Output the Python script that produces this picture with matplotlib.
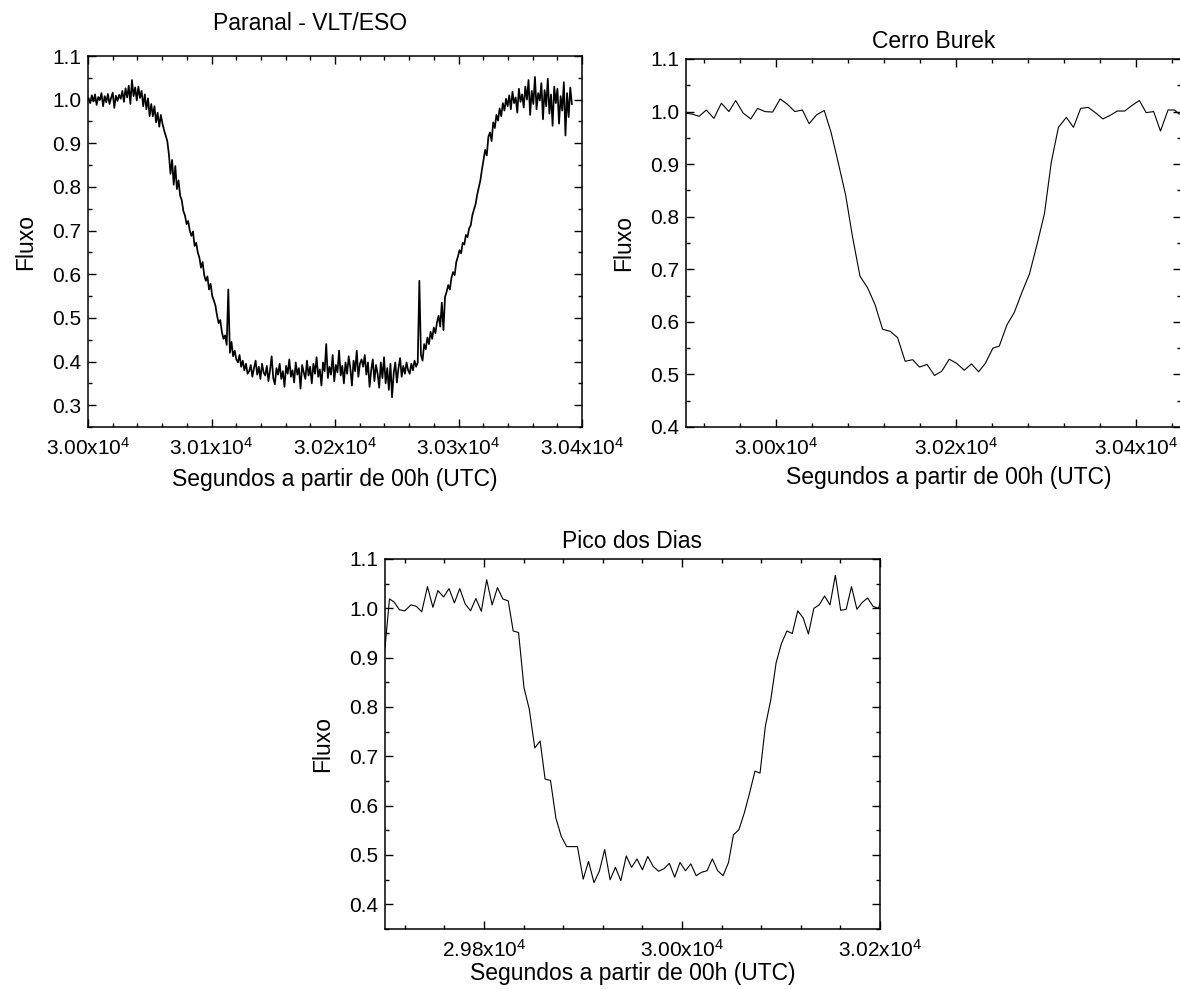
import numpy as np
import matplotlib
matplotlib.use("Agg")
import matplotlib.pyplot as plt
from matplotlib.ticker import MultipleLocator, FuncFormatter

# curvas de luz da ocultacao, tres sitios

# Paranal - VLT/ESO (cadencia constante)
paranal_inicio = 30000.5
paranal_cadencia = 1.3
fluxo_paranal = [
    1.003, 0.992, 1.010, 0.996, 1.012, 0.988, 1.006, 0.999, 1.015, 0.985,
    1.008, 0.994, 1.013, 0.990, 1.004, 1.016, 0.981, 1.009, 0.997, 1.011,
    1.002, 1.020, 0.995, 1.026, 1.005, 1.032, 0.990, 1.045, 1.008, 1.028,
    0.998, 1.030, 1.004, 1.020, 0.985, 1.012, 0.978, 1.003, 0.962, 0.990,
    0.962, 0.985, 0.948, 0.970, 0.938, 0.965, 0.945, 0.930, 0.918, 0.905,
    0.875, 0.830, 0.862, 0.805, 0.848, 0.795, 0.815, 0.780, 0.770, 0.745,
    0.735, 0.715, 0.722, 0.700, 0.688, 0.698, 0.665, 0.672, 0.650, 0.638,
    0.615, 0.628, 0.598, 0.585, 0.595, 0.565, 0.578, 0.550, 0.540, 0.528,
    0.505, 0.488, 0.495, 0.468, 0.452, 0.460, 0.438, 0.565, 0.420, 0.445,
    0.412, 0.425, 0.405, 0.398, 0.415, 0.388, 0.402, 0.380, 0.395, 0.372,
    0.378, 0.392, 0.365, 0.385, 0.402, 0.370, 0.388, 0.360, 0.395, 0.375,
    0.368, 0.390, 0.355, 0.380, 0.412, 0.362, 0.348, 0.385, 0.370, 0.395,
    0.360, 0.378, 0.342, 0.390, 0.372, 0.405, 0.365, 0.380, 0.352, 0.398,
    0.370, 0.385, 0.338, 0.392, 0.375, 0.360, 0.402, 0.368, 0.388, 0.350,
    0.395, 0.372, 0.410, 0.365, 0.382, 0.345, 0.398, 0.378, 0.440, 0.362,
    0.388, 0.370, 0.415, 0.355, 0.392, 0.375, 0.425, 0.368, 0.390, 0.350,
    0.398, 0.372, 0.412, 0.385, 0.345, 0.402, 0.378, 0.425, 0.365, 0.395,
    0.405, 0.388, 0.415, 0.370, 0.398, 0.342, 0.380, 0.405, 0.355, 0.392,
    0.372, 0.340, 0.398, 0.362, 0.410, 0.350, 0.385, 0.335, 0.395, 0.318,
    0.372, 0.398, 0.352, 0.385, 0.408, 0.365, 0.390, 0.372, 0.398, 0.380,
    0.372, 0.395, 0.380, 0.402, 0.388, 0.398, 0.585, 0.415, 0.402, 0.440,
    0.428, 0.455, 0.440, 0.468, 0.452, 0.478, 0.465, 0.490, 0.505, 0.480,
    0.535, 0.472, 0.548, 0.560, 0.575, 0.565, 0.592, 0.605, 0.598, 0.628,
    0.640, 0.655, 0.648, 0.672, 0.668, 0.690, 0.685, 0.705, 0.712, 0.735,
    0.748, 0.760, 0.782, 0.798, 0.815, 0.840, 0.862, 0.885, 0.872, 0.915,
    0.925, 0.905, 0.948, 0.935, 0.965, 0.952, 0.980, 0.962, 0.992, 0.975,
    1.002, 0.985, 1.010, 0.978, 1.018, 0.992, 1.005, 0.970, 1.025, 0.995,
    1.012, 0.982, 1.030, 1.000, 1.045, 0.965, 1.020, 0.990, 1.052, 0.978,
    1.015, 0.998, 1.038, 0.955, 1.022, 0.985, 1.048, 0.968, 1.012, 0.940,
    1.030, 0.992, 1.025, 0.945, 1.008, 0.975, 1.040, 0.918, 1.015, 0.960,
    1.028, 0.990,
]

# Cerro Burek
tempo_burek = [
    29900.0, 29907.1, 29914.6, 29922.6, 29931.0, 29939.3, 29947.7, 29955.2,
    29963.6, 29972.0, 29979.5, 29987.9, 29996.2, 30004.6, 30012.6, 30020.9,
    30029.3, 30036.8, 30045.2, 30053.6, 30061.1, 30069.0, 30077.4, 30084.9,
    30093.3, 30101.7, 30110.0, 30118.4, 30126.8, 30135.1, 30143.5, 30151.9,
    30159.4, 30167.8, 30176.1, 30184.1, 30192.5, 30200.8, 30209.2, 30217.2,
    30225.1, 30232.6, 30241.0, 30248.1, 30256.5, 30264.8, 30273.2, 30281.6,
    30290.0, 30298.3, 30305.9, 30313.8, 30322.6, 30330.5, 30338.5, 30346.9,
    30354.8, 30363.2, 30371.5, 30379.1, 30387.4, 30395.8, 30403.8, 30411.3,
    30419.6, 30427.2, 30435.6, 30442.7, 30448.1,
]
fluxo_burek = [
    0.997, 0.995, 0.991, 1.003, 0.987, 1.016, 1.000, 1.021,
    0.997, 0.986, 1.006, 1.000, 0.999, 1.024, 1.014, 1.000,
    1.003, 0.977, 0.994, 1.002, 0.961, 0.904, 0.841, 0.763,
    0.687, 0.665, 0.633, 0.586, 0.582, 0.570, 0.525, 0.528,
    0.514, 0.519, 0.498, 0.506, 0.529, 0.521, 0.508, 0.520,
    0.505, 0.521, 0.550, 0.554, 0.594, 0.618, 0.656, 0.691,
    0.747, 0.806, 0.904, 0.970, 0.989, 0.970, 1.006, 1.008,
    0.998, 0.986, 0.993, 1.001, 1.001, 1.012, 1.021, 0.998,
    1.000, 0.963, 1.003, 1.003, 0.995,
]

# Pico dos Dias
tempo_pico = [
    29700.0, 29704.5, 29709.1, 29714.6, 29720.0, 29726.2, 29731.7, 29737.1,
    29742.9, 29748.4, 29753.4, 29759.2, 29764.7, 29770.1, 29775.5, 29781.0,
    29786.4, 29791.8, 29797.3, 29802.7, 29808.2, 29813.6, 29819.0, 29824.5,
    29829.5, 29834.9, 29840.4, 29845.8, 29851.3, 29856.7, 29861.7, 29867.2,
    29872.6, 29878.0, 29883.5, 29888.9, 29894.4, 29900.2, 29905.6, 29911.1,
    29916.5, 29921.9, 29927.4, 29932.8, 29938.2, 29943.7, 29949.1, 29954.5,
    29960.0, 29965.4, 29970.9, 29976.3, 29981.7, 29987.2, 29992.6, 29998.0,
    30003.5, 30008.9, 30014.3, 30019.8, 30025.2, 30030.7, 30036.1, 30041.5,
    30047.0, 30052.0, 30057.4, 30062.9, 30068.3, 30073.7, 30078.8, 30084.2,
    30089.7, 30095.1, 30100.5, 30106.0, 30111.4, 30116.9, 30122.3, 30127.7,
    30133.2, 30138.6, 30144.0, 30149.5, 30154.9, 30160.3, 30165.8, 30171.2,
    30176.7, 30182.1, 30187.5, 30193.0, 30198.4, 30200.5,
]
fluxo_pico = [
    0.920, 1.019, 1.013, 0.997, 0.995, 1.007, 1.004, 0.993,
    1.044, 1.002, 1.036, 1.023, 1.040, 1.011, 1.040, 1.009,
    0.995, 1.020, 0.994, 1.058, 1.007, 1.042, 1.019, 1.015,
    0.954, 0.951, 0.839, 0.795, 0.717, 0.731, 0.654, 0.651,
    0.575, 0.538, 0.517, 0.517, 0.517, 0.451, 0.487, 0.444,
    0.467, 0.511, 0.450, 0.475, 0.448, 0.498, 0.475, 0.492,
    0.470, 0.497, 0.477, 0.467, 0.472, 0.483, 0.455, 0.485,
    0.468, 0.482, 0.458, 0.465, 0.468, 0.492, 0.468, 0.458,
    0.485, 0.541, 0.551, 0.585, 0.626, 0.670, 0.666, 0.761,
    0.815, 0.890, 0.929, 0.954, 0.949, 0.995, 0.981, 0.948,
    1.000, 1.007, 1.025, 1.007, 1.067, 0.996, 0.998, 1.044,
    0.998, 1.012, 1.021, 1.004, 1.000, 1.013,
]

tempo_paranal = paranal_inicio + paranal_cadencia * np.arange(len(fluxo_paranal))

plt.rcParams['font.family'] = ['Liberation Sans', 'DejaVu Sans']
plt.rcParams['mathtext.fontset'] = 'custom'
plt.rcParams['mathtext.rm'] = 'Liberation Sans'
plt.rcParams['mathtext.it'] = 'Liberation Sans:italic'
plt.rcParams['mathtext.bf'] = 'Liberation Sans:bold'

TICK_FS = 15
LABEL_FS = 16.5
XLAB = 'Segundos a partir de 00h (UTC)'


def fmt_x(v, pos):
    return f"{v/1e4:.2f}x10$^{{4}}$"


def estilo(ax, xmaj, xmin, titulo, pad_tit, xlpad, xtit=0.5):
    ax.xaxis.set_major_locator(MultipleLocator(xmaj))
    ax.xaxis.set_minor_locator(MultipleLocator(xmin))
    ax.yaxis.set_major_locator(MultipleLocator(0.1))
    ax.yaxis.set_minor_locator(MultipleLocator(0.05))
    ax.xaxis.set_major_formatter(FuncFormatter(fmt_x))
    ax.yaxis.set_major_formatter(FuncFormatter(lambda v, p: f"{v:.1f}"))
    ax.tick_params(which='both', direction='in', top=True, right=True,
                   width=1.0, labelsize=TICK_FS)
    ax.tick_params(which='major', length=5.5)
    ax.tick_params(which='minor', length=3.2)
    ax.tick_params(axis='x', which='major', pad=7)
    ax.tick_params(axis='y', which='major', pad=5)
    for s in ax.spines.values():
        s.set_linewidth(1.1)
    ax.set_title(titulo, fontsize=LABEL_FS, pad=pad_tit, x=xtit)
    ax.set_xlabel(XLAB, fontsize=LABEL_FS, labelpad=xlpad)
    ax.set_ylabel('Fluxo', fontsize=LABEL_FS, labelpad=11)


fig = plt.figure(figsize=(11.8, 9.89), dpi=100)
W, H = 1180.0, 989.0
ax1 = fig.add_axes([88 / W, 1 - 427 / H, 494 / W, 371 / H])
ax2 = fig.add_axes([686 / W, 1 - 427 / H, 495 / W, 368 / H])
ax3 = fig.add_axes([385 / W, 1 - 929 / H, 495 / W, 370 / H])

ax1.plot(tempo_paranal, fluxo_paranal, color='black', lw=1.25)
ax1.set_xlim(30000, 30400)
ax1.set_ylim(0.25, 1.1)
estilo(ax1, 100, 20, 'Paranal - VLT/ESO', 19, 7, xtit=0.45)

ax2.plot(tempo_burek, fluxo_burek, color='black', lw=0.8)
ax2.set_xlim(29900, 30450)
ax2.set_ylim(0.4, 1.1)
estilo(ax2, 200, 40, 'Cerro Burek', 8, 7)
ax2.xaxis.set_label_coords(0.53, -0.105)

ax3.plot(tempo_pico, fluxo_pico, color='black', lw=0.8)
ax3.set_xlim(29700, 30200)
ax3.set_ylim(0.35, 1.1)
estilo(ax3, 200, 40, 'Pico dos Dias', 8, 1)

fig.savefig('out.png', dpi=100)
